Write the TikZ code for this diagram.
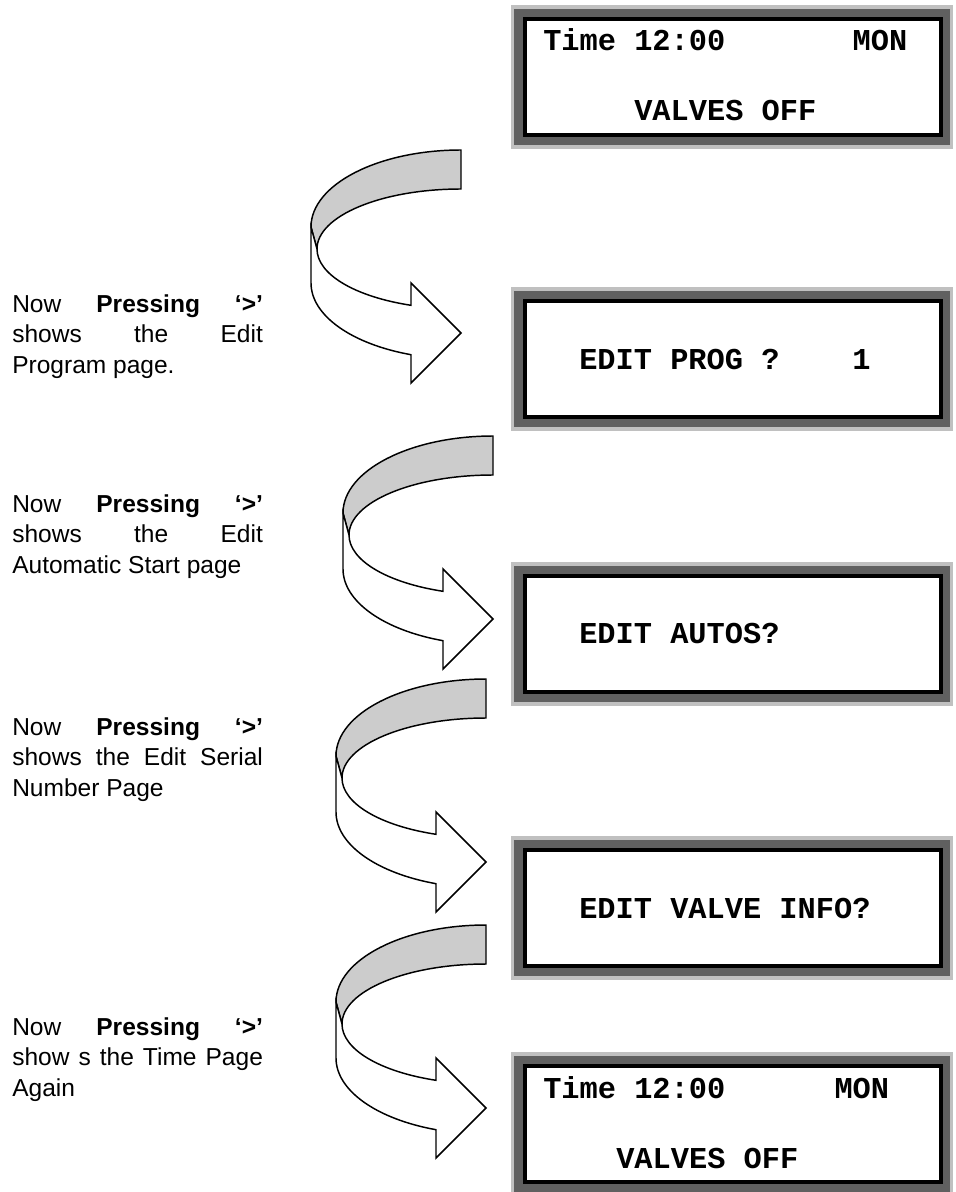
\documentclass[tikz,border=0pt]{standalone}
\usepackage{fontspec}
\setmainfont{Liberation Sans}
\newfontfamily\lcdfont{Liberation Mono}
\definecolor{lcdlight}{HTML}{C0C0C0}
\definecolor{lcddark}{HTML}{606060}
\definecolor{bandgray}{HTML}{CCCCCC}
\newcommand\jline[1]{\makebox[188pt][s]{#1}}
\newcommand\lcdframe[1]{%
  \fill[lcdlight] (511,#1) rectangle (953,#1+144);
  \fill[lcddark] (514,#1+4) rectangle (950,#1+140);}
\tikzset{
  lcdbox/.style={draw=black, line width=3pt, fill=white, minimum width=312pt, minimum height=87pt, inner sep=0pt},
  lcdtext/.style={font=\lcdfont\bfseries\fontsize{22.75pt}{27pt}\selectfont, inner sep=0pt, anchor=base west},
  lefttext/.style={font=\fontsize{18.4pt}{22.9pt}\selectfont, inner sep=0pt, anchor=base west},
  bandline/.style={draw=black, line width=1.1pt, line join=miter},
  uturn/.pic={
    \filldraw[bandline, fill=bandgray] (0,-183) .. controls (-82.8,-183) and (-150,-148.5) .. (-150,-106)
      -- (-144,-84) .. controls (-144,-117.1) and (-79.5,-144) .. (0,-144) -- cycle;
    \filldraw[bandline, fill=white] (-150,-106) -- (-150,-50)
      .. controls (-150,-17.8) and (-109.9,10.9) .. (-50,21.7)
      -- (-50,50) -- (0,0) -- (-50,-50) -- (-50,-27.7)
      .. controls (-106.5,-36.4) and (-144,-58.9) .. (-144,-84) -- cycle;
  }
}
\begin{document}
\begin{tikzpicture}[x=0.75pt,y=-0.75pt]
\useasboundingbox (0,0) rectangle (956,1192);
\fill[white] (0,0) rectangle (956,1192);

% LCD boxes
\lcdframe{5}
\node[lcdbox] (box1) at (733,77) {};
\node[lcdtext] (box1a) at (543,50) {Time 12:00~~~~~~~MON};
\node[lcdtext] (box1b) at (634,120) {VALVES OFF};

\lcdframe{287}
\node[lcdbox] (box2) at (733,359) {};
\node[lcdtext] (box2a) at (579,369) {EDIT PROG ?~~~~1};

\lcdframe{562}
\node[lcdbox] (box3) at (733,634) {};
\node[lcdtext] (box3a) at (579,643) {EDIT AUTOS?};

\lcdframe{836}
\node[lcdbox] (box4) at (733,908) {};
\node[lcdtext] (box4a) at (579,918) {EDIT VALVE INFO?};

\lcdframe{1052}
\node[lcdbox] (box5) at (733,1124) {};
\node[lcdtext] (box5a) at (543,1098) {Time 12:00~~~~~~MON};
\node[lcdtext] (box5b) at (616,1168) {VALVES OFF};

% U-turn arrows
\begin{scope}[shift={(461,333)}] \pic {uturn}; \end{scope}
\begin{scope}[shift={(493,619)},yscale=0.92] \pic {uturn}; \end{scope}
\begin{scope}[shift={(486,862)},yscale=0.92] \pic {uturn}; \end{scope}
\begin{scope}[shift={(486,1108)},yscale=0.92] \pic {uturn}; \end{scope}

% Left texts
\node[lefttext] (t1) at (12,312) {\parbox[t]{188pt}{\jline{Now \textbf{Pressing} \textbf{‘>’}}\\\jline{shows the Edit}\\Program page.}};
\node[lefttext] (t2) at (12,512) {\parbox[t]{188pt}{\jline{Now \textbf{Pressing} \textbf{‘>’}}\\\jline{shows the Edit}\\Automatic Start page}};
\node[lefttext] (t3) at (12,735) {\parbox[t]{188pt}{\jline{Now \textbf{Pressing} \textbf{‘>’}}\\\jline{shows the Edit Serial}\\Number Page}};
\node[lefttext] (t4) at (12,1035) {\parbox[t]{188pt}{\jline{Now \textbf{Pressing} \textbf{‘>’}}\\\jline{show s the Time Page}\\Again}};
\end{tikzpicture}
\end{document}
